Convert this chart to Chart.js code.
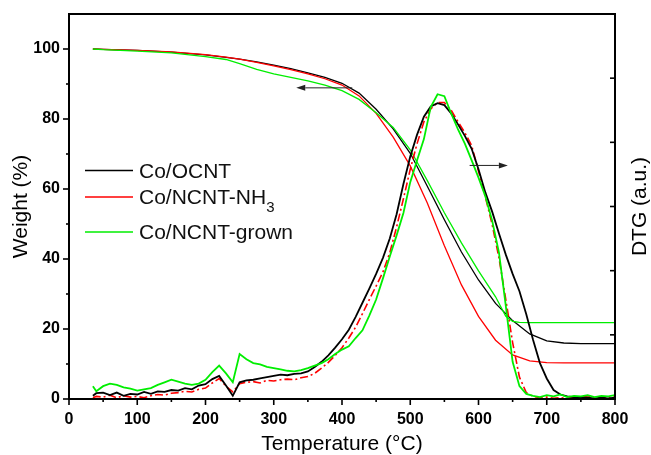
<!DOCTYPE html>
<html>
<head>
<meta charset="utf-8">
<script src="https://cdn.jsdelivr.net/npm/chart.js@4/dist/chart.umd.min.js"></script>
<style>
  html, body { margin: 0; padding: 0; background: #fff; }
  #wrap { width: 651px; height: 455px; }
</style>
</head>
<body>
<div id="wrap"><canvas id="c" width="651" height="455"></canvas></div>
<script>
// ---------------- DATA ----------------
const seriesNames = ['Co/OCNT', 'Co/NCNT-NH', 'Co/NCNT-grown'];
const seriesSub = ['', '3', ''];

// TG (weight %, left axis)
const tgTempA = [35, 50, 100, 150, 200, 230, 250, 275, 300, 325, 350, 375, 400, 425, 450, 475, 500, 525, 550, 575, 600, 625, 650, 675, 700, 725, 750, 800];
const tgBlack = [100, 99.9, 99.6, 99.1, 98.3, 97.6, 97.1, 96.3, 95.4, 94.4, 93.2, 91.9, 90.2, 87.4, 82.8, 77.2, 70.2, 60.8, 51.2, 42.0, 34.0, 27.3, 22.4, 18.6, 16.6, 16.0, 15.8, 15.8];
const tgRed   = [100, 99.9, 99.6, 99.2, 98.4, 97.7, 97.1, 96.2, 95.2, 94.1, 92.9, 91.5, 89.7, 86.6, 81.6, 74.8, 66.6, 56.0, 43.8, 32.6, 23.6, 16.8, 12.6, 10.9, 10.4, 10.3, 10.3, 10.3];
const tgTempG = [35, 50, 100, 150, 200, 230, 250, 275, 300, 325, 350, 375, 400, 425, 450, 475, 500, 525, 550, 575, 600, 625, 640, 650, 660, 675, 700, 800];
const tgGreen = [100, 99.8, 99.4, 98.9, 97.8, 97.0, 95.8, 94.2, 92.9, 91.9, 90.9, 89.7, 88.1, 85.6, 81.8, 77.6, 71.2, 62.4, 53.2, 44.6, 36.6, 29.2, 23.6, 22.2, 21.9, 21.8, 21.8, 21.8];

// DTG (a.u., right axis)
const dtgTemp = [
  35, 40, 50, 60, 70, 80, 90, 100, 110, 120,
  130, 140, 150, 160, 170, 180, 190, 200, 210, 220,
  230, 240, 250, 260, 270, 280, 290, 300, 310, 320,
  330, 340, 350, 360, 370, 380, 390, 400, 410, 420,
  430, 440, 450, 460, 470, 480, 490, 500, 510, 520,
  530, 540, 550, 560, 570, 580, 590, 600, 610, 620,
  630, 640, 650, 660, 670, 680, 690, 700, 710, 720,
  730, 740, 750, 760, 770, 780, 790, 800];
const dtgBlack = [
  0.05, 0.09, 0.10, 0.06, 0.10, 0.05, 0.08, 0.07, 0.11, 0.08,
  0.12, 0.11, 0.14, 0.13, 0.17, 0.15, 0.21, 0.23, 0.31, 0.36,
  0.21, 0.05, 0.26, 0.29, 0.30, 0.32, 0.34, 0.36, 0.38, 0.37,
  0.39, 0.40, 0.43, 0.50, 0.58, 0.68, 0.80, 0.93, 1.08, 1.28,
  1.50, 1.72, 1.95, 2.20, 2.50, 2.88, 3.35, 3.78, 4.12, 4.40,
  4.56, 4.61, 4.58, 4.45, 4.28, 4.10, 3.90, 3.58, 3.22, 2.92,
  2.58, 2.25, 1.95, 1.68, 1.32, 0.92, 0.56, 0.32, 0.14, 0.07,
  0.04, 0.03, 0.02, 0.02, 0.01, 0.02, 0.01, 0.02];
const dtgRed = [
  0.02, 0.04, 0.03, 0.06, 0.02, 0.05, 0.03, 0.04, 0.02, 0.05,
  0.07, 0.06, 0.09, 0.10, 0.12, 0.11, 0.15, 0.17, 0.25, 0.32,
  0.20, 0.11, 0.24, 0.26, 0.27, 0.25, 0.29, 0.28, 0.30, 0.31,
  0.30, 0.33, 0.35, 0.40, 0.48, 0.57, 0.68, 0.80, 0.95, 1.12,
  1.33, 1.55, 1.76, 1.98, 2.28, 2.68, 3.12, 3.58, 3.98, 4.32,
  4.52, 4.62, 4.62, 4.50, 4.32, 4.15, 3.95, 3.55, 3.15, 2.72,
  2.20, 1.55, 0.88, 0.34, 0.10, 0.04, 0.02, 0.03, 0.01, 0.02,
  0.01, 0.03, 0.02, 0.05, 0.02, 0.03, 0.01, 0.04];
const dtgGreen = [
  0.20, 0.12, 0.20, 0.24, 0.22, 0.18, 0.16, 0.13, 0.15, 0.17,
  0.22, 0.26, 0.30, 0.27, 0.24, 0.22, 0.24, 0.30, 0.42, 0.52,
  0.40, 0.26, 0.70, 0.62, 0.56, 0.54, 0.50, 0.48, 0.46, 0.44,
  0.43, 0.45, 0.48, 0.52, 0.56, 0.62, 0.70, 0.77, 0.82, 0.95,
  1.07, 1.30, 1.55, 1.88, 2.22, 2.55, 2.90, 3.38, 3.72, 4.05,
  4.55, 4.75, 4.72, 4.45, 4.20, 3.98, 3.72, 3.45, 3.16, 2.78,
  2.28, 1.45, 0.58, 0.20, 0.08, 0.05, 0.03, 0.06, 0.04, 0.07,
  0.03, 0.05, 0.04, 0.06, 0.03, 0.05, 0.04, 0.06];

// axis tick values
const xTickLabels = [0, 100, 200, 300, 400, 500, 600, 700, 800];
const yTickLabels = [0, 20, 40, 60, 80, 100];

// annotation arrows (data coordinates: [temperature, value], axis id)
const arrows = [
  { from: [415, 88.9], to: [333, 88.9], axis: 'y' },
  { from: [587, 3.64], to: [643, 3.64], axis: 'y2' }
];

// ---------------- CHART ----------------
const FONT = "'Liberation Sans', Arial, Helvetica, sans-serif";
const colors = ['#000000', '#ff0000', '#00ee00'];
const pts = (xs, ys) => xs.map((t, i) => ({ x: t, y: ys[i] }));

const datasets = [
  { data: pts(dtgTemp, dtgGreen), borderColor: colors[2], borderWidth: 1.8, yAxisID: 'y2', order: 0 },
  { data: pts(dtgTemp, dtgBlack), borderColor: colors[0], borderWidth: 1.8, yAxisID: 'y2', order: 1 },
  { data: pts(dtgTemp, dtgRed), borderColor: colors[1], borderWidth: 1.6, borderDash: [8, 3, 2, 3], yAxisID: 'y2', order: 2 },
  { data: pts(tgTempG, tgGreen), borderColor: colors[2], borderWidth: 1.3, yAxisID: 'y', order: 3 },
  { data: pts(tgTempA, tgRed), borderColor: colors[1], borderWidth: 1.3, yAxisID: 'y', order: 4 },
  { data: pts(tgTempA, tgBlack), borderColor: colors[0], borderWidth: 1.3, yAxisID: 'y', order: 5 }
];

const decor = {
  id: 'decor',
  afterDraw(chart) {
    const { ctx, chartArea: a, scales } = chart;
    const { x, y, y2 } = scales;
    ctx.save();
    const seg = (x1, y1, x2, y2_) => { ctx.beginPath(); ctx.moveTo(x1, y1); ctx.lineTo(x2, y2_); ctx.stroke(); };
    ctx.strokeStyle = '#000';
    // ticks bottom
    ctx.lineWidth = 1.6;
    x.ticks.forEach(t => {
      const px = x.getPixelForValue(t.value);
      const len = xTickLabels.includes(t.value) ? 6 : 3;
      seg(px, a.bottom, px, a.bottom + len);
    });
    // ticks left
    y.ticks.forEach(t => {
      if (t.value > 100) return;
      const py = y.getPixelForValue(t.value);
      const len = yTickLabels.includes(t.value) ? 6 : 3;
      seg(a.left - len, py, a.left, py);
    });
    // ticks right (inward)
    y2.ticks.forEach(t => {
      if (t.value <= 0 || t.value >= 6) return;
      const py = y2.getPixelForValue(t.value);
      seg(a.right - 5, py, a.right, py);
    });
    // frame
    ctx.lineWidth = 2;
    ctx.strokeRect(a.left, a.top, a.right - a.left, a.bottom - a.top);

    // arrows
    ctx.lineWidth = 1;
    ctx.strokeStyle = '#222';
    ctx.fillStyle = '#222';
    arrows.forEach(ar => {
      const ys = scales[ar.axis];
      const x1 = x.getPixelForValue(ar.from[0]), y1 = ys.getPixelForValue(ar.from[1]);
      const x2 = x.getPixelForValue(ar.to[0]), y2p = ys.getPixelForValue(ar.to[1]);
      const ang = Math.atan2(y2p - y1, x2 - x1);
      const hl = 9, hw = 3;
      const bx = x2 - hl * Math.cos(ang), by = y2p - hl * Math.sin(ang);
      seg(x1, y1, bx, by);
      ctx.beginPath();
      ctx.moveTo(x2, y2p);
      ctx.lineTo(bx - hw * Math.sin(ang), by + hw * Math.cos(ang));
      ctx.lineTo(bx + hw * Math.sin(ang), by - hw * Math.cos(ang));
      ctx.closePath();
      ctx.fill();
    });

    // legend
    const legY = [170.5, 197, 232];
    const legBase = [177.5, 204, 238.5];
    ctx.lineWidth = 1.4;
    ctx.fillStyle = '#111';
    ctx.textAlign = 'left';
    ctx.textBaseline = 'alphabetic';
    seriesNames.forEach((name, i) => {
      ctx.strokeStyle = colors[i];
      seg(85, legY[i], 133, legY[i]);
      ctx.font = '21px ' + FONT;
      ctx.fillText(name, 139, legBase[i]);
      if (seriesSub[i]) {
        const w = ctx.measureText(name).width;
        ctx.font = '15px ' + FONT;
        ctx.fillText(seriesSub[i], 139 + w, legBase[i] + 7.5);
      }
    });

    // right axis title
    ctx.font = '21px ' + FONT;
    ctx.fillStyle = '#000';
    ctx.translate(640, (a.top + a.bottom) / 2);
    ctx.rotate(-Math.PI / 2);
    ctx.textAlign = 'center';
    ctx.textBaseline = 'middle';
    ctx.fillText('DTG (a.u.)', 0, 0);
    ctx.restore();
  }
};

new Chart(document.getElementById('c'), {
  type: 'line',
  data: { datasets },
  options: {
    responsive: false,
    animation: false,
    devicePixelRatio: 1,
    layout: { padding: { top: 14, left: 0, right: 0, bottom: 0 } },
    elements: { point: { radius: 0 }, line: { tension: 0, borderCapStyle: 'butt' } },
    plugins: { legend: { display: false }, tooltip: { enabled: false } },
    scales: {
      x: {
        type: 'linear', min: 0, max: 800,
        ticks: {
          stepSize: 50, autoSkip: false, maxRotation: 0, padding: 5, color: '#000',
          font: { family: FONT, size: 16, weight: 'bold' },
          callback: v => xTickLabels.includes(v) ? String(v) : ''
        },
        grid: { display: false, drawTicks: true, tickLength: 6 },
        border: { display: false },
        title: { display: true, text: 'Temperature (°C)', color: '#000', padding: { top: 0, bottom: 0 }, font: { family: FONT, size: 21, lineHeight: 1 } },
        afterFit: s => { s.height = 56; }
      },
      y: {
        position: 'left', min: 0, max: 110,
        ticks: {
          stepSize: 10, autoSkip: false, padding: 3, color: '#000',
          font: { family: FONT, size: 16, weight: 'bold' },
          callback: v => yTickLabels.includes(v) ? String(v) : ''
        },
        grid: { display: false, drawTicks: true, tickLength: 6 },
        border: { display: false },
        title: { display: true, text: 'Weight (%)', color: '#000', padding: { top: 10.5, bottom: 0 }, font: { family: FONT, size: 21, lineHeight: 1 } },
        afterFit: s => { s.width = 69; }
      },
      y2: {
        position: 'right', min: 0, max: 6,
        ticks: { stepSize: 1, display: false },
        grid: { display: false },
        border: { display: false },
        afterFit: s => { s.width = 36; }
      }
    }
  },
  plugins: [decor]
});
</script>
</body>
</html>
